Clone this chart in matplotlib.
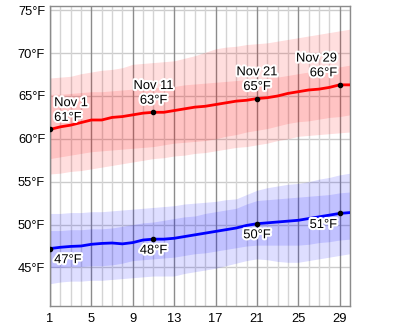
import matplotlib
matplotlib.use('Agg')
import matplotlib.pyplot as plt
import matplotlib.patheffects as pe
import numpy as np

days = np.arange(1, 31)

# average daily high and its percentile bands (°F)
hi = [61.1, 61.4, 61.6, 61.9, 62.2, 62.2, 62.5, 62.6, 62.8, 63.0,
      63.1, 63.1, 63.3, 63.5, 63.7, 63.8, 64.0, 64.2, 64.4, 64.5,
      64.7, 64.8, 65.0, 65.3, 65.5, 65.7, 65.8, 66.0, 66.3, 66.3]
hi_p90 = [67.1, 67.2, 67.3, 67.6, 67.8, 68.0, 68.1, 68.3, 68.7, 68.8,
          68.9, 69.0, 69.1, 69.4, 69.7, 70.1, 70.5, 70.7, 70.8, 71.0,
          71.1, 71.2, 71.4, 71.6, 71.8, 72.0, 72.2, 72.4, 72.6, 72.8]
hi_p75 = [65.2, 65.2, 65.3, 65.4, 65.5, 65.5, 65.6, 65.7, 65.8, 65.9,
          66.0, 66.0, 66.1, 66.3, 66.4, 66.5, 66.6, 66.7, 66.8, 66.9,
          67.0, 67.1, 67.2, 67.4, 67.6, 67.8, 68.0, 68.2, 68.4, 68.6]
hi_p25 = [57.7, 57.9, 58.1, 58.3, 58.5, 58.6, 58.7, 58.8, 58.9, 59.0,
          59.1, 59.3, 59.5, 59.6, 59.7, 59.8, 60.0, 60.3, 60.5, 60.8,
          61.0, 61.2, 61.5, 61.8, 62.0, 62.1, 62.3, 62.5, 62.6, 62.8]
hi_p10 = [55.9, 56.0, 56.2, 56.3, 56.5, 56.7, 56.9, 57.1, 57.3, 57.5,
          57.7, 57.8, 58.0, 58.1, 58.3, 58.4, 58.6, 58.8, 59.0, 59.1,
          59.3, 59.5, 59.8, 60.0, 60.3, 60.4, 60.5, 60.6, 60.7, 60.8]

# average daily low and its percentile bands (°F)
lo = [47.2, 47.35, 47.45, 47.5, 47.7, 47.8, 47.85, 47.75, 47.9, 48.2,
      48.3, 48.3, 48.4, 48.6, 48.8, 49.0, 49.2, 49.4, 49.6, 49.9,
      50.1, 50.2, 50.3, 50.4, 50.5, 50.7, 50.9, 51.1, 51.3, 51.4]
lo_p90 = [51.3, 51.3, 51.4, 51.4, 51.5, 51.5, 51.6, 51.7, 51.8, 51.9,
          52.0, 52.1, 52.2, 52.4, 52.5, 52.6, 52.7, 52.9, 53.0, 53.5,
          54.0, 54.3, 54.5, 54.7, 54.8, 55.0, 55.3, 55.5, 55.8, 56.0]
lo_p75 = [49.3, 49.3, 49.4, 49.4, 49.5, 49.5, 49.6, 49.8, 50.0, 50.2,
          50.3, 50.5, 50.7, 50.9, 51.0, 51.3, 51.5, 51.7, 51.9, 52.4,
          52.8, 52.9, 53.0, 53.1, 53.2, 53.3, 53.4, 53.5, 53.7, 53.8]
lo_p25 = [45.0, 45.0, 45.1, 45.1, 45.2, 45.2, 45.3, 45.5, 45.8, 45.9,
          46.0, 46.1, 46.2, 46.4, 46.6, 46.7, 46.9, 47.1, 47.3, 47.5,
          47.6, 47.6, 47.6, 47.6, 47.6, 47.7, 47.9, 48.0, 48.2, 48.3]
lo_p10 = [43.1, 43.3, 43.4, 43.4, 43.5, 43.5, 43.6, 43.7, 43.8, 43.9,
          44.0, 44.0, 44.0, 44.3, 44.5, 44.7, 44.9, 45.2, 45.5, 45.8,
          46.0, 45.9, 45.7, 45.6, 45.6, 45.8, 46.0, 46.2, 46.4, 46.6]

marked_days = [1, 11, 21, 29]
x_ticks = [1, 5, 9, 13, 17, 21, 25, 29]
y_ticks = [45, 50, 55, 60, 65, 70, 75]

plt.rcParams['font.family'] = ['Liberation Sans', 'DejaVu Sans']

fig = plt.figure(figsize=(4.0, 3.29), dpi=100)
ax = fig.add_axes([0.125, 0.0699, 0.75, 0.9119])

red, blue = '#ff0000', '#0000ff'
ax.fill_between(days, hi_p10, hi_p90, color=red, alpha=0.13, lw=0)
ax.fill_between(days, hi_p25, hi_p75, color=red, alpha=0.12, lw=0)
ax.fill_between(days, lo_p10, lo_p90, color=blue, alpha=0.13, lw=0)
ax.fill_between(days, lo_p25, lo_p75, color=blue, alpha=0.13, lw=0)

ax.plot(days, hi, color=red, lw=2, zorder=3)
ax.plot(days, lo, color=blue, lw=2, zorder=3)

halo = [pe.withStroke(linewidth=3, foreground='white')]
fs = 9.3
for d in marked_days:
    h = hi[d - 1]
    l = lo[d - 1]
    ax.plot([d, d], [h, l], 'o', color='black', ms=3, zorder=4)
    if d == 1:
        ha, dx = 'left', 3
    elif d == 29:
        ha, dx = 'right', -2
    else:
        ha, dx = 'center', 0
    ax.annotate('Nov %d\n%d°F' % (d, round(h)), xy=(d, h), xytext=(dx, 4),
                textcoords='offset points', ha=ha, va='bottom', fontsize=fs,
                linespacing=1.3, path_effects=halo, zorder=5)
    ax.annotate('%d°F' % round(l), xy=(d, l), xytext=(dx, -4),
                textcoords='offset points', ha=ha, va='top', fontsize=fs,
                path_effects=halo, zorder=5)

ax.set_xlim(1, 30)
ax.set_ylim(40.5, 75.5)

# grid: light line every day, darker every 4th day, horizontal every 5°F
for d in days:
    c = '#8c8c8c' if d in x_ticks else '#d4d4d4'
    ax.axvline(d, color=c, lw=1, zorder=0.5)
for y in y_ticks:
    ax.axhline(y, color='#cccccc', lw=1, zorder=0.4)

ax.set_xticks(x_ticks)
ax.set_yticks(y_ticks)
ax.set_yticklabels(['%d°F' % t for t in y_ticks])
ax.tick_params(length=0, labelsize=fs, colors='black')
ax.tick_params(axis='x', pad=5)
ax.tick_params(axis='y', pad=3.5)
for s in ax.spines.values():
    s.set_color('#8c8c8c')
    s.set_linewidth(1)

fig.savefig('out.png', dpi=100)
